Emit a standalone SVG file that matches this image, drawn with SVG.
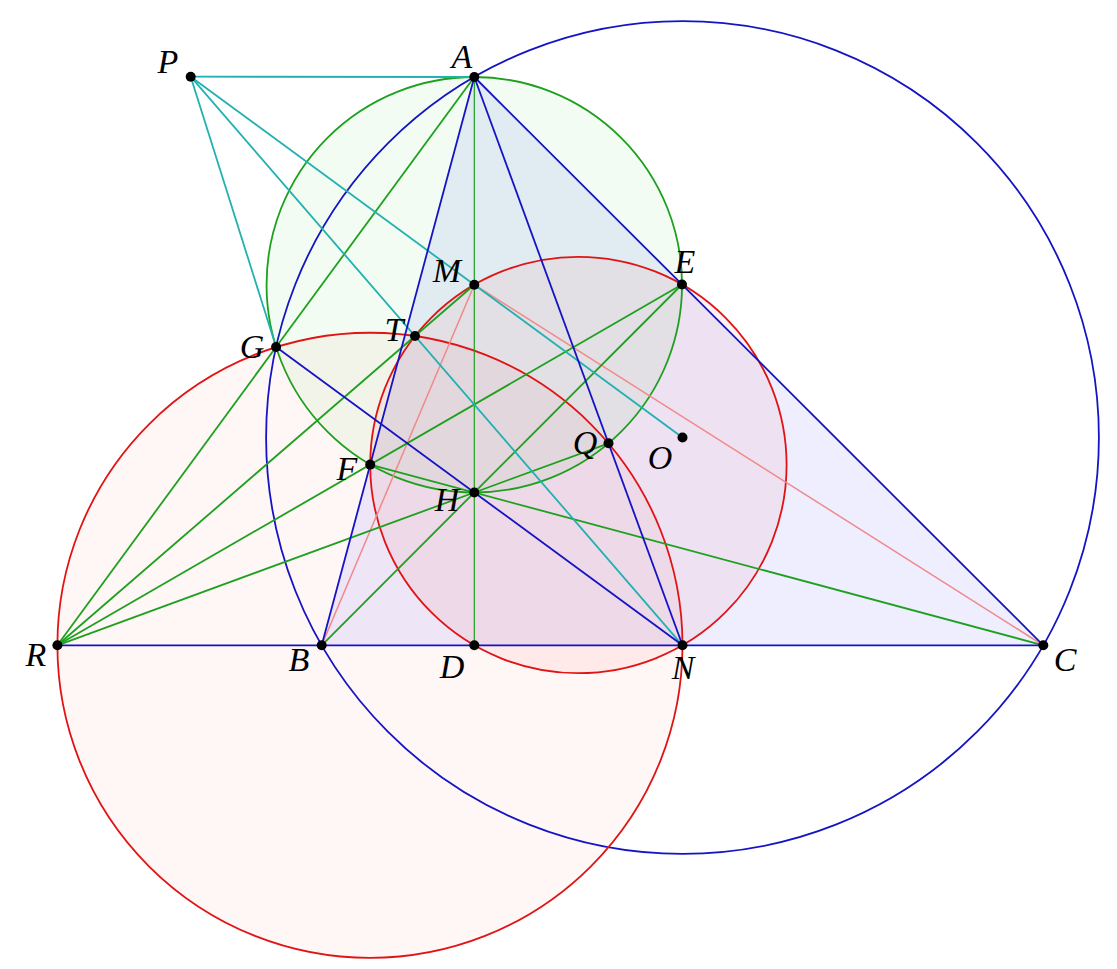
<svg xmlns="http://www.w3.org/2000/svg" width="1117" height="969" viewBox="0 0 1117 969">
<style>
.bl{stroke:#1414c4;stroke-width:1.8;fill:none}
.gr{stroke:#1ea01e;stroke-width:1.8;fill:none}
.cy{stroke:#22b0b0;stroke-width:1.8;fill:none}
.pk{stroke:#f08a8a;stroke-width:1.5;fill:none}
.rd{stroke:#e01414;stroke-width:1.8}
.pt{fill:#000}
text{font-family:"Liberation Serif","DejaVu Serif",serif;font-style:italic;font-size:34px;fill:#000;text-anchor:middle}
</style>
<rect width="1117" height="969" fill="#fff"/>
<g id="fills">
<circle id="circle-RN" cx="369.95" cy="645.3" r="312.55" fill="#ff0000" fill-opacity="0.035" stroke="none"/>
<polygon id="triangle-ABC" points="474.3,77 321.7,645.3 1043.3,645.3" fill="#0000ff" fill-opacity="0.065" stroke="none"/>
<circle id="circle-AH" cx="474.3" cy="284.75" r="207.75" fill="#00c800" fill-opacity="0.05" stroke="none"/>
<circle id="circle-nine" cx="578.4" cy="465" r="208.2" fill="#ff0000" fill-opacity="0.05" stroke="none"/>
</g>
<g id="connectors">
<circle class="bl" cx="682.5" cy="437.5" r="416.4"/>
<circle class="rd" fill="none" cx="369.95" cy="645.3" r="312.55"/>
<circle class="rd" fill="none" cx="578.4" cy="465" r="208.2"/>
<circle class="gr" cx="474.3" cy="284.75" r="207.75"/>
<line class="pk" x1="474.3" y1="284.75" x2="321.7" y2="645.3"/>
<line class="pk" x1="474.3" y1="284.75" x2="1043.3" y2="645.3"/>
<line class="gr" style="stroke-width:1.2" x1="474.3" y1="77" x2="474.3" y2="645.3"/>
<line class="gr" x1="474.3" y1="77" x2="276.1" y2="347"/>
<line class="gr" x1="57.4" y1="645.3" x2="276.1" y2="347"/>
<line class="gr" x1="57.4" y1="645.3" x2="474.3" y2="284.75"/>
<line class="gr" x1="57.4" y1="645.3" x2="682" y2="284.5"/>
<line class="gr" x1="57.4" y1="645.3" x2="474.3" y2="492.5"/>
<line class="gr" x1="321.7" y1="645.3" x2="682" y2="284.5"/>
<line class="gr" x1="370.2" y1="464.6" x2="1043.3" y2="645.3"/>
<line class="gr" x1="474.3" y1="492.5" x2="608.5" y2="443.3"/>
<line class="cy" x1="190.7" y1="76.7" x2="474.3" y2="77"/>
<line class="cy" x1="190.7" y1="76.7" x2="276.1" y2="347"/>
<line class="cy" x1="190.7" y1="76.7" x2="682.5" y2="645.3"/>
<line class="cy" x1="190.7" y1="76.7" x2="682.5" y2="437.5"/>
<line class="bl" x1="57.4" y1="645.3" x2="1043.3" y2="645.3"/>
<line class="bl" x1="474.3" y1="77" x2="321.7" y2="645.3"/>
<line class="bl" x1="474.3" y1="77" x2="1043.3" y2="645.3"/>
<line class="bl" x1="474.3" y1="77" x2="682.5" y2="645.3"/>
<line class="bl" x1="276.1" y1="347" x2="682.5" y2="645.3"/>
</g>
<g id="P"><circle class="pt" cx="190.7" cy="76.7" r="5"/><text x="168" y="73">P</text></g>
<g id="A"><circle class="pt" cx="474.3" cy="77" r="5"/><text x="462" y="68">A</text></g>
<g id="M"><circle class="pt" cx="474.3" cy="284.75" r="5"/><text x="447" y="282">M</text></g>
<g id="E"><circle class="pt" cx="682" cy="284.5" r="5"/><text x="685" y="273">E</text></g>
<g id="G"><circle class="pt" cx="276.1" cy="347" r="5"/><text x="252" y="358">G</text></g>
<g id="T"><circle class="pt" cx="415" cy="336" r="5"/><text x="394" y="341">T</text></g>
<g id="Q"><circle class="pt" cx="608.5" cy="443.3" r="5"/><text x="585" y="454">Q</text></g>
<g id="O"><circle class="pt" cx="682.5" cy="437.5" r="5"/><text x="660" y="469">O</text></g>
<g id="F"><circle class="pt" cx="370.2" cy="464.6" r="5"/><text x="347" y="480">F</text></g>
<g id="H"><circle class="pt" cx="474.3" cy="492.5" r="5"/><text x="447" y="511">H</text></g>
<g id="R"><circle class="pt" cx="57.4" cy="645.3" r="5"/><text x="36" y="666">R</text></g>
<g id="B"><circle class="pt" cx="321.7" cy="645.3" r="5"/><text x="299" y="671">B</text></g>
<g id="D"><circle class="pt" cx="474.3" cy="645.3" r="5"/><text x="452" y="678">D</text></g>
<g id="N"><circle class="pt" cx="682.5" cy="645.3" r="5"/><text x="683" y="679">N</text></g>
<g id="C"><circle class="pt" cx="1043.3" cy="645.3" r="5"/><text x="1065" y="671">C</text></g>
</svg>
